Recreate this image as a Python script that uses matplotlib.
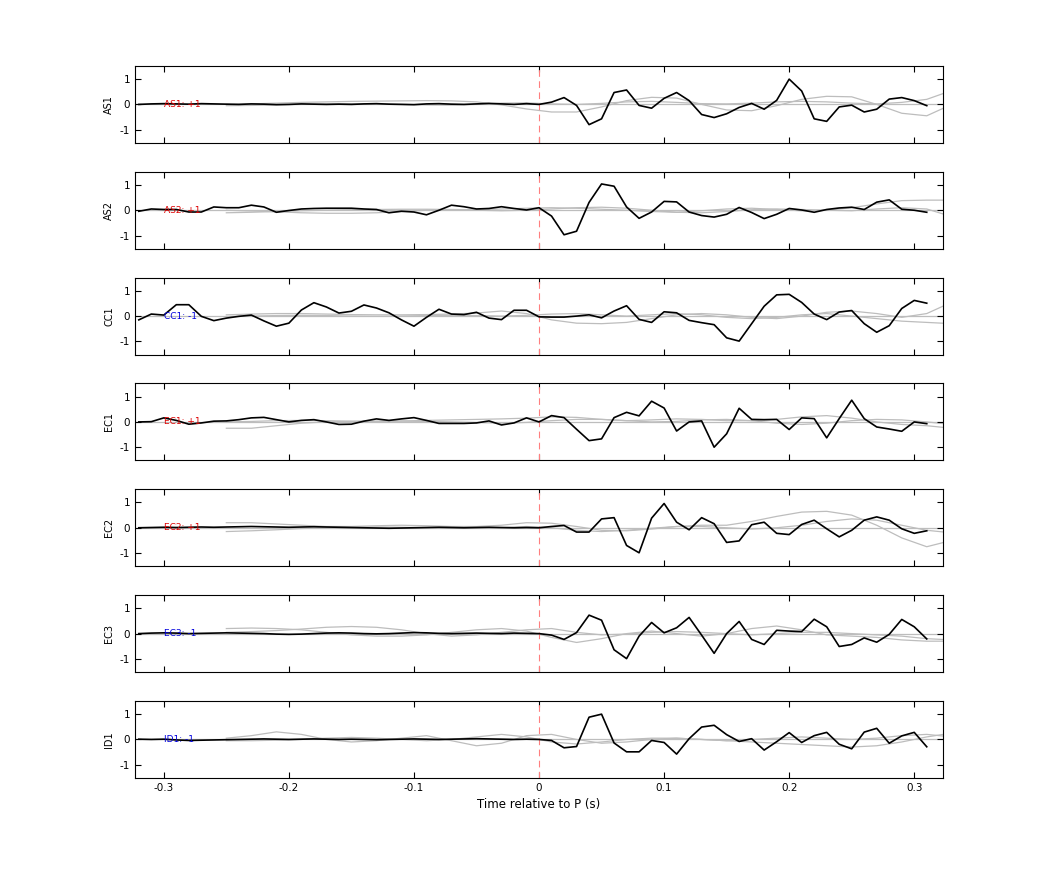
import numpy as np
import matplotlib
matplotlib.use("Agg")
import matplotlib.pyplot as plt

t = np.round(np.arange(-0.32, 0.315, 0.01), 2)  # sample times
tg = np.round(np.arange(-0.25, 0.34, 0.02), 2)   # gray trace times

stations = ["AS1", "AS2", "CC1", "EC1", "EC2", "EC3", "ID1"]
polarity = ["+1", "+1", "-1", "+1", "+1", "-1", "-1"]

AS1 = [0.0, 0.02, 0.03, 0.02, 0.01, 0.03, 0.02, 0.01, 0.0, 0.02, 0.01, -0.01, 0.0, 0.02, 0.01, 0.0,
       0.01, 0.0, 0.02, 0.03, 0.01, 0.0, -0.01, 0.02, 0.03, 0.01, 0.0, 0.02, 0.04, 0.02, 0.0, 0.03,
       0.0, 0.09, 0.27, -0.04, -0.8, -0.57, 0.47, 0.57, -0.04, -0.15, 0.24, 0.47, 0.15, -0.4, -0.52, -0.37,
       -0.12, 0.04, -0.19, 0.16, 1.0, 0.53, -0.57, -0.67, -0.1, -0.03, -0.3, -0.19, 0.21, 0.27, 0.15, -0.05]
AS2 = [-0.04, 0.05, 0.03, 0.03, -0.07, -0.07, 0.13, 0.1, 0.1, 0.2, 0.13, -0.08, -0.01, 0.05, 0.07, 0.08,
       0.08, 0.08, 0.05, 0.03, -0.1, -0.04, -0.07, -0.18, 0.0, 0.2, 0.14, 0.05, 0.07, 0.14, 0.07, 0.01,
       0.1, -0.23, -0.97, -0.83, 0.31, 1.04, 0.95, 0.13, -0.32, -0.07, 0.35, 0.33, -0.07, -0.21, -0.27, -0.16,
       0.11, -0.09, -0.33, -0.16, 0.07, 0.01, -0.08, 0.03, 0.09, 0.12, 0.03, 0.32, 0.41, 0.04, 0.0, -0.08]
CC1 = [-0.15, 0.08, 0.04, 0.45, 0.45, -0.01, -0.18, -0.08, -0.01, 0.04, -0.19, -0.4, -0.28, 0.24, 0.53, 0.36,
       0.12, 0.19, 0.44, 0.32, 0.13, -0.15, -0.4, -0.05, 0.27, 0.08, 0.06, 0.15, -0.08, -0.14, 0.23, 0.23,
       -0.03, -0.04, -0.04, 0.0, 0.05, -0.07, 0.2, 0.41, -0.13, -0.25, 0.17, 0.13, -0.17, -0.26, -0.34, -0.86,
       -0.99, -0.3, 0.39, 0.84, 0.86, 0.54, 0.08, -0.14, 0.16, 0.22, -0.3, -0.64, -0.38, 0.3, 0.62, 0.51]
EC1 = [0.0, 0.01, 0.16, 0.06, -0.09, -0.04, 0.03, 0.04, 0.09, 0.16, 0.18, 0.09, 0.0, 0.06, 0.09, 0.0,
       -0.1, -0.09, 0.03, 0.12, 0.06, 0.12, 0.17, 0.06, -0.06, -0.06, -0.06, -0.04, 0.04, -0.12, -0.04, 0.16,
       0.0, 0.25, 0.17, -0.29, -0.74, -0.67, 0.17, 0.38, 0.24, 0.82, 0.55, -0.36, 0.0, 0.04, -1.0, -0.47,
       0.54, 0.1, 0.09, 0.1, -0.3, 0.16, 0.13, -0.63, 0.13, 0.86, 0.13, -0.2, -0.28, -0.37, 0.0, -0.07]
EC2 = [0.0, 0.01, 0.02, 0.01, 0.02, 0.03, 0.02, 0.03, 0.04, 0.05, 0.04, 0.03, 0.02, 0.03, 0.04, 0.03,
       0.02, 0.01, 0.0, -0.01, -0.02, -0.01, 0.0, 0.01, 0.02, 0.01, 0.0, 0.01, 0.02, 0.01, 0.0, 0.01,
       0.0, 0.05, 0.09, -0.17, -0.17, 0.35, 0.4, -0.7, -0.99, 0.38, 0.96, 0.22, -0.08, 0.4, 0.16, -0.58,
       -0.52, 0.12, 0.22, -0.22, -0.27, 0.13, 0.3, -0.04, -0.36, -0.1, 0.3, 0.43, 0.3, -0.04, -0.22, -0.12]
EC3 = [0.0, 0.02, 0.03, 0.02, 0.0, 0.01, 0.02, 0.03, 0.02, 0.01, 0.0, -0.02, -0.03, -0.02, 0.0, 0.02,
       0.03, 0.02, 0.0, -0.01, 0.0, 0.02, 0.04, 0.03, 0.01, 0.0, 0.01, 0.02, 0.01, 0.0, 0.02, 0.01,
       0.0, -0.06, -0.23, 0.04, 0.73, 0.53, -0.64, -0.99, -0.1, 0.44, 0.03, 0.23, 0.64, -0.06, -0.78, 0.0,
       0.48, -0.23, -0.43, 0.13, 0.1, 0.08, 0.57, 0.27, -0.51, -0.43, -0.17, -0.34, -0.03, 0.56, 0.27, -0.21]
ID1 = [0.01, 0.0, 0.01, -0.02, -0.04, -0.03, -0.02, -0.01, 0.0, 0.01, 0.02, 0.01, 0.0, 0.01, 0.02, 0.01,
       0.0, 0.01, 0.0, -0.01, 0.0, 0.01, 0.02, 0.01, 0.0, 0.01, 0.02, 0.03, 0.02, 0.01, 0.0, 0.01,
       0.0, -0.04, -0.33, -0.28, 0.88, 1.0, -0.14, -0.49, -0.49, -0.04, -0.12, -0.58, 0.03, 0.49, 0.56, 0.19,
       -0.08, 0.03, -0.42, -0.09, 0.27, -0.12, 0.15, 0.28, -0.19, -0.37, 0.29, 0.44, -0.15, 0.14, 0.28, -0.29]
traces = [AS1, AS2, CC1, EC1, EC2, EC3, ID1]

# gray synthetic traces, sampled every 0.02 s from -0.25 to 0.33
G_AS1a = [0.0, 0.02, 0.05, 0.08, 0.1, 0.12, 0.13, 0.14, 0.15, 0.14, 0.1, -0.02, -0.18, -0.3, -0.3, -0.1,
          0.15, 0.28, 0.25, 0.0, -0.22, -0.25, -0.05, 0.2, 0.32, 0.3, 0.0, -0.35, -0.45, 0.0]
G_AS1b = [-0.05, -0.04, -0.02, 0.0, 0.02, 0.03, 0.02, 0.0, -0.02, -0.03, 0.0, 0.05, 0.06, 0.02, 0.0, 0.04,
          0.1, 0.12, 0.08, 0.03, 0.02, 0.05, 0.1, 0.12, 0.1, 0.05, 0.02, 0.08, 0.2, 0.55]
G_AS2a = [-0.1, -0.08, -0.05, -0.02, 0.0, 0.02, 0.03, 0.04, 0.04, 0.03, 0.02, 0.05, 0.08, 0.1, 0.08, 0.04,
          0.0, -0.05, -0.08, -0.02, 0.05, 0.08, 0.03, -0.02, 0.0, 0.1, 0.25, 0.38, 0.4, 0.4]
G_AS2b = [0.0, -0.03, -0.06, -0.1, -0.12, -0.12, -0.1, -0.05, 0.0, 0.02, 0.0, -0.02, 0.0, 0.05, 0.1, 0.12,
          0.08, 0.0, -0.08, -0.1, -0.05, 0.02, 0.05, 0.03, 0.0, -0.02, 0.05, 0.1, 0.05, -0.25]
G_CC1a = [0.05, 0.08, 0.1, 0.1, 0.08, 0.06, 0.05, 0.05, 0.06, 0.08, 0.12, 0.2, 0.1, -0.15, -0.28, -0.3,
          -0.25, -0.1, 0.05, 0.1, 0.05, -0.05, -0.1, 0.0, 0.15, 0.2, 0.1, -0.05, 0.1, 0.55]
G_CC1b = [-0.02, 0.0, 0.02, 0.03, 0.02, 0.0, -0.01, 0.0, 0.02, 0.03, 0.02, 0.0, 0.03, 0.08, 0.1, 0.05,
          0.0, 0.05, 0.1, 0.05, -0.05, -0.1, -0.05, 0.05, 0.1, 0.0, -0.1, -0.2, -0.25, -0.3]
G_EC1a = [-0.25, -0.25, -0.15, -0.05, 0.0, 0.02, 0.03, 0.03, 0.02, 0.0, -0.02, -0.05, -0.02, 0.05, 0.1, 0.1,
          0.05, 0.0, 0.02, 0.08, 0.1, 0.05, -0.05, -0.1, -0.05, 0.05, 0.1, 0.08, 0.0, -0.1]
G_EC1b = [0.0, 0.02, 0.05, 0.06, 0.05, 0.03, 0.02, 0.04, 0.06, 0.08, 0.1, 0.12, 0.15, 0.2, 0.18, 0.1,
          0.05, 0.08, 0.12, 0.1, 0.05, 0.05, 0.1, 0.2, 0.25, 0.15, 0.0, -0.1, -0.15, -0.25]
G_EC2a = [0.2, 0.2, 0.15, 0.1, 0.05, 0.05, 0.08, 0.1, 0.08, 0.05, 0.05, 0.1, 0.2, 0.18, 0.05, -0.1,
          -0.12, -0.05, 0.05, 0.1, 0.1, 0.25, 0.45, 0.62, 0.65, 0.5, 0.1, -0.4, -0.75, -0.5]
G_EC2b = [-0.15, -0.12, -0.08, -0.03, 0.0, 0.02, 0.03, 0.02, 0.0, -0.02, -0.02, 0.0, 0.05, 0.0, -0.1, -0.15,
          -0.1, -0.02, 0.05, 0.05, 0.0, -0.05, 0.0, 0.1, 0.25, 0.35, 0.3, 0.1, -0.1, -0.2]
G_EC3a = [0.2, 0.22, 0.2, 0.15, 0.05, -0.05, -0.1, -0.1, -0.05, 0.05, 0.15, 0.2, 0.1, -0.15, -0.35, -0.2,
          0.0, 0.1, 0.0, -0.1, 0.0, 0.2, 0.3, 0.15, -0.05, -0.1, -0.15, -0.25, -0.3, -0.3]
G_EC3b = [0.05, 0.08, 0.12, 0.18, 0.25, 0.28, 0.25, 0.15, 0.0, -0.1, -0.05, 0.05, 0.15, 0.2, 0.05, -0.05,
          -0.02, 0.05, 0.08, 0.05, 0.0, -0.05, 0.0, 0.05, 0.05, 0.0, -0.05, -0.1, -0.2, -0.25]
G_ID1a = [0.05, 0.15, 0.3, 0.2, 0.0, -0.1, -0.05, 0.05, 0.15, -0.05, -0.25, -0.15, 0.15, 0.2, 0.0, -0.15,
          -0.1, 0.0, 0.05, 0.0, -0.05, -0.1, -0.15, -0.2, -0.25, -0.3, -0.25, -0.1, 0.1, 0.25]
G_ID1b = [-0.05, -0.05, -0.03, 0.0, 0.05, 0.08, 0.05, 0.0, -0.05, 0.0, 0.1, 0.2, 0.1, -0.1, -0.18, -0.1,
          0.0, 0.05, 0.05, 0.0, -0.05, 0.0, 0.05, 0.1, 0.05, 0.0, 0.05, 0.15, 0.2, 0.1]
grays = [[G_AS1a, G_AS1b], [G_AS2a, G_AS2b], [G_CC1a, G_CC1b], [G_EC1a, G_EC1b],
         [G_EC2a, G_EC2b], [G_EC3a, G_EC3b], [G_ID1a, G_ID1b]]

xticks = [-0.3, -0.2, -0.1, 0.0, 0.1, 0.2, 0.3]
xticklabels = ["-0.3", "-0.2", "-0.1", "0", "0.1", "0.2", "0.3"]

fig, axes = plt.subplots(7, 1, figsize=(10.42, 8.75), dpi=100, sharex=True)
fig.subplots_adjust(left=0.1296, right=0.905, top=0.9246, bottom=0.111, hspace=0.377)

for ax, name, pol, y, gr in zip(axes, stations, polarity, traces, grays):
    for g in gr:
        ax.plot(tg, g, color="#bdbdbd", lw=0.9, zorder=1)
    ax.axhline(0, color="#bdbdbd", lw=0.9, zorder=1)
    ax.plot(t, y, color="black", lw=1.2, zorder=3)
    ax.axvline(0, color="#ff7f7f", lw=0.8, ls=(0, (6, 4)), zorder=2)
    ax.text(-0.3, 0, f"{name}: {pol}", color="#dd0000" if pol == "+1" else "#0000dd",
            fontsize=6.5, va="center", ha="left", zorder=4)
    ax.set_xlim(-0.323, 0.323)
    ax.set_ylim(-1.52, 1.52)
    ax.set_yticks([-1, 0, 1])
    ax.set_yticklabels(["-1", "0", "1"], fontsize=7.5)
    ax.set_ylabel(name, fontsize=7)
    ax.tick_params(direction="in", top=True, right=True, length=4, width=0.8, labelsize=7.5)
    for s in ax.spines.values():
        s.set_linewidth(0.8)

axes[-1].set_xticks(xticks)
axes[-1].set_xticklabels(xticklabels, fontsize=7.5)
axes[-1].set_xlabel("Time relative to P (s)", fontsize=8.5)

fig.savefig("out.png", dpi=100)
